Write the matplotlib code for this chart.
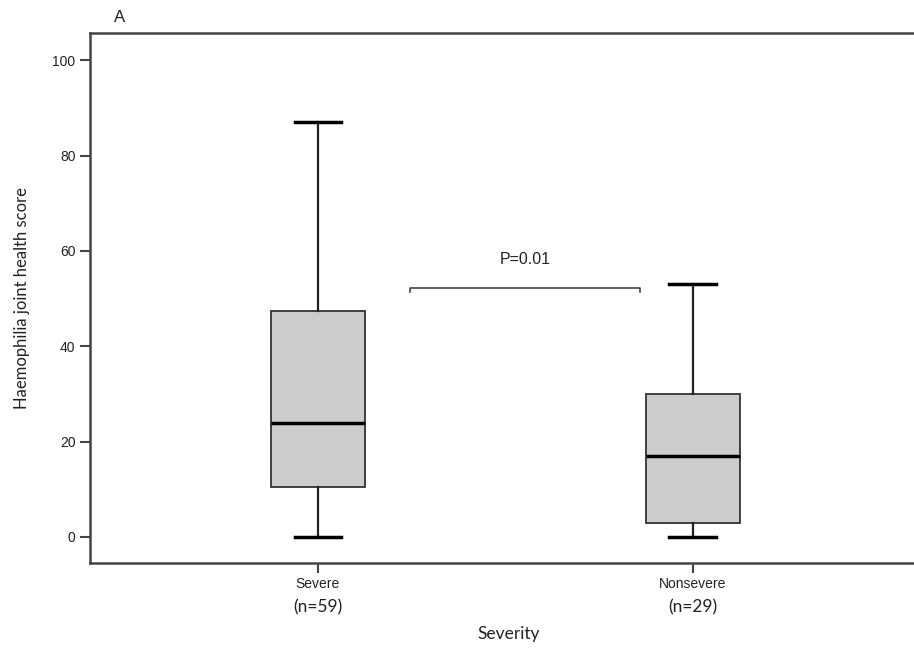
import matplotlib.pyplot as plt
from matplotlib.transforms import blended_transform_factory

groups = ["Severe", "Nonsevere"]
counts = ["(n=59)", "(n=29)"]
whisker_low = [0, 0]
q1 = [10.5, 3.0]
median = [24.0, 17.0]
q3 = [47.5, 30.0]
whisker_high = [87, 53]

p_label = "P=0.01"
bracket_x = [1.245, 1.86]
bracket_y = 52.2

fig = plt.figure(figsize=(9.14, 6.5), dpi=100)
ax = fig.add_axes([0.0985, 0.134, 0.9015, 0.815])

stats = []
for i, g in enumerate(groups):
    stats.append(dict(label=g, whislo=whisker_low[i], q1=q1[i], med=median[i],
                      q3=q3[i], whishi=whisker_high[i], fliers=[]))

edge = "#333333"
ax.bxp(stats, positions=[1, 2], widths=0.25, patch_artist=True, showfliers=False,
       capwidths=0.125,
       boxprops=dict(facecolor="#cccccc", edgecolor=edge, linewidth=1.3),
       medianprops=dict(color="black", linewidth=2.5),
       whiskerprops=dict(color="#222222", linewidth=1.6),
       capprops=dict(color="black", linewidth=2.5))

# significance bracket
tick_drop = 0.9
ax.plot([bracket_x[0], bracket_x[0], bracket_x[1], bracket_x[1]],
        [bracket_y - tick_drop, bracket_y, bracket_y, bracket_y - tick_drop],
        color="#333333", linewidth=1.1)
ax.text(sum(bracket_x) / 2, 58.2, p_label, ha="center", va="center",
        fontsize=11.5, family="Liberation Sans", color="#222222")

ax.set_xlim(0.392, 2.59)
ax.set_ylim(-5.45, 105.7)
ax.set_yticks([0, 20, 40, 60, 80, 100])
ax.set_xticks([1, 2])
ax.set_xticklabels(groups)

for side in ["top", "left", "bottom"]:
    ax.spines[side].set_color("#444444")
    ax.spines[side].set_linewidth(1.8)
ax.spines["right"].set_visible(False)

ax.tick_params(axis="both", direction="out", length=7, width=1.5, color="#444444",
               labelcolor="#222222")
for lab in ax.get_yticklabels() + ax.get_xticklabels():
    lab.set_family("Liberation Sans")
    lab.set_fontsize(10)

trans = blended_transform_factory(ax.transData, fig.transFigure)
for i, c in enumerate(counts):
    ax.text(i + 1, 1 - 607 / 650, c, transform=trans, ha="center", va="center",
            fontsize=12.5, family="Lato", color="#222222")

fig.text(509 / 914, 1 - 634 / 650, "Severity", ha="center", va="center",
         fontsize=12.5, family="Lato", color="#222222")
fig.text(22 / 914, 1 - 298 / 650, "Haemophilia joint health score", rotation=90,
         ha="center", va="center", fontsize=12, family="Lato", color="#222222")
fig.text(120 / 914, 1 - 17 / 650, "A", ha="center", va="center",
         fontsize=12, family="Liberation Sans", color="#222222")

fig.savefig("out.png", dpi=100)
